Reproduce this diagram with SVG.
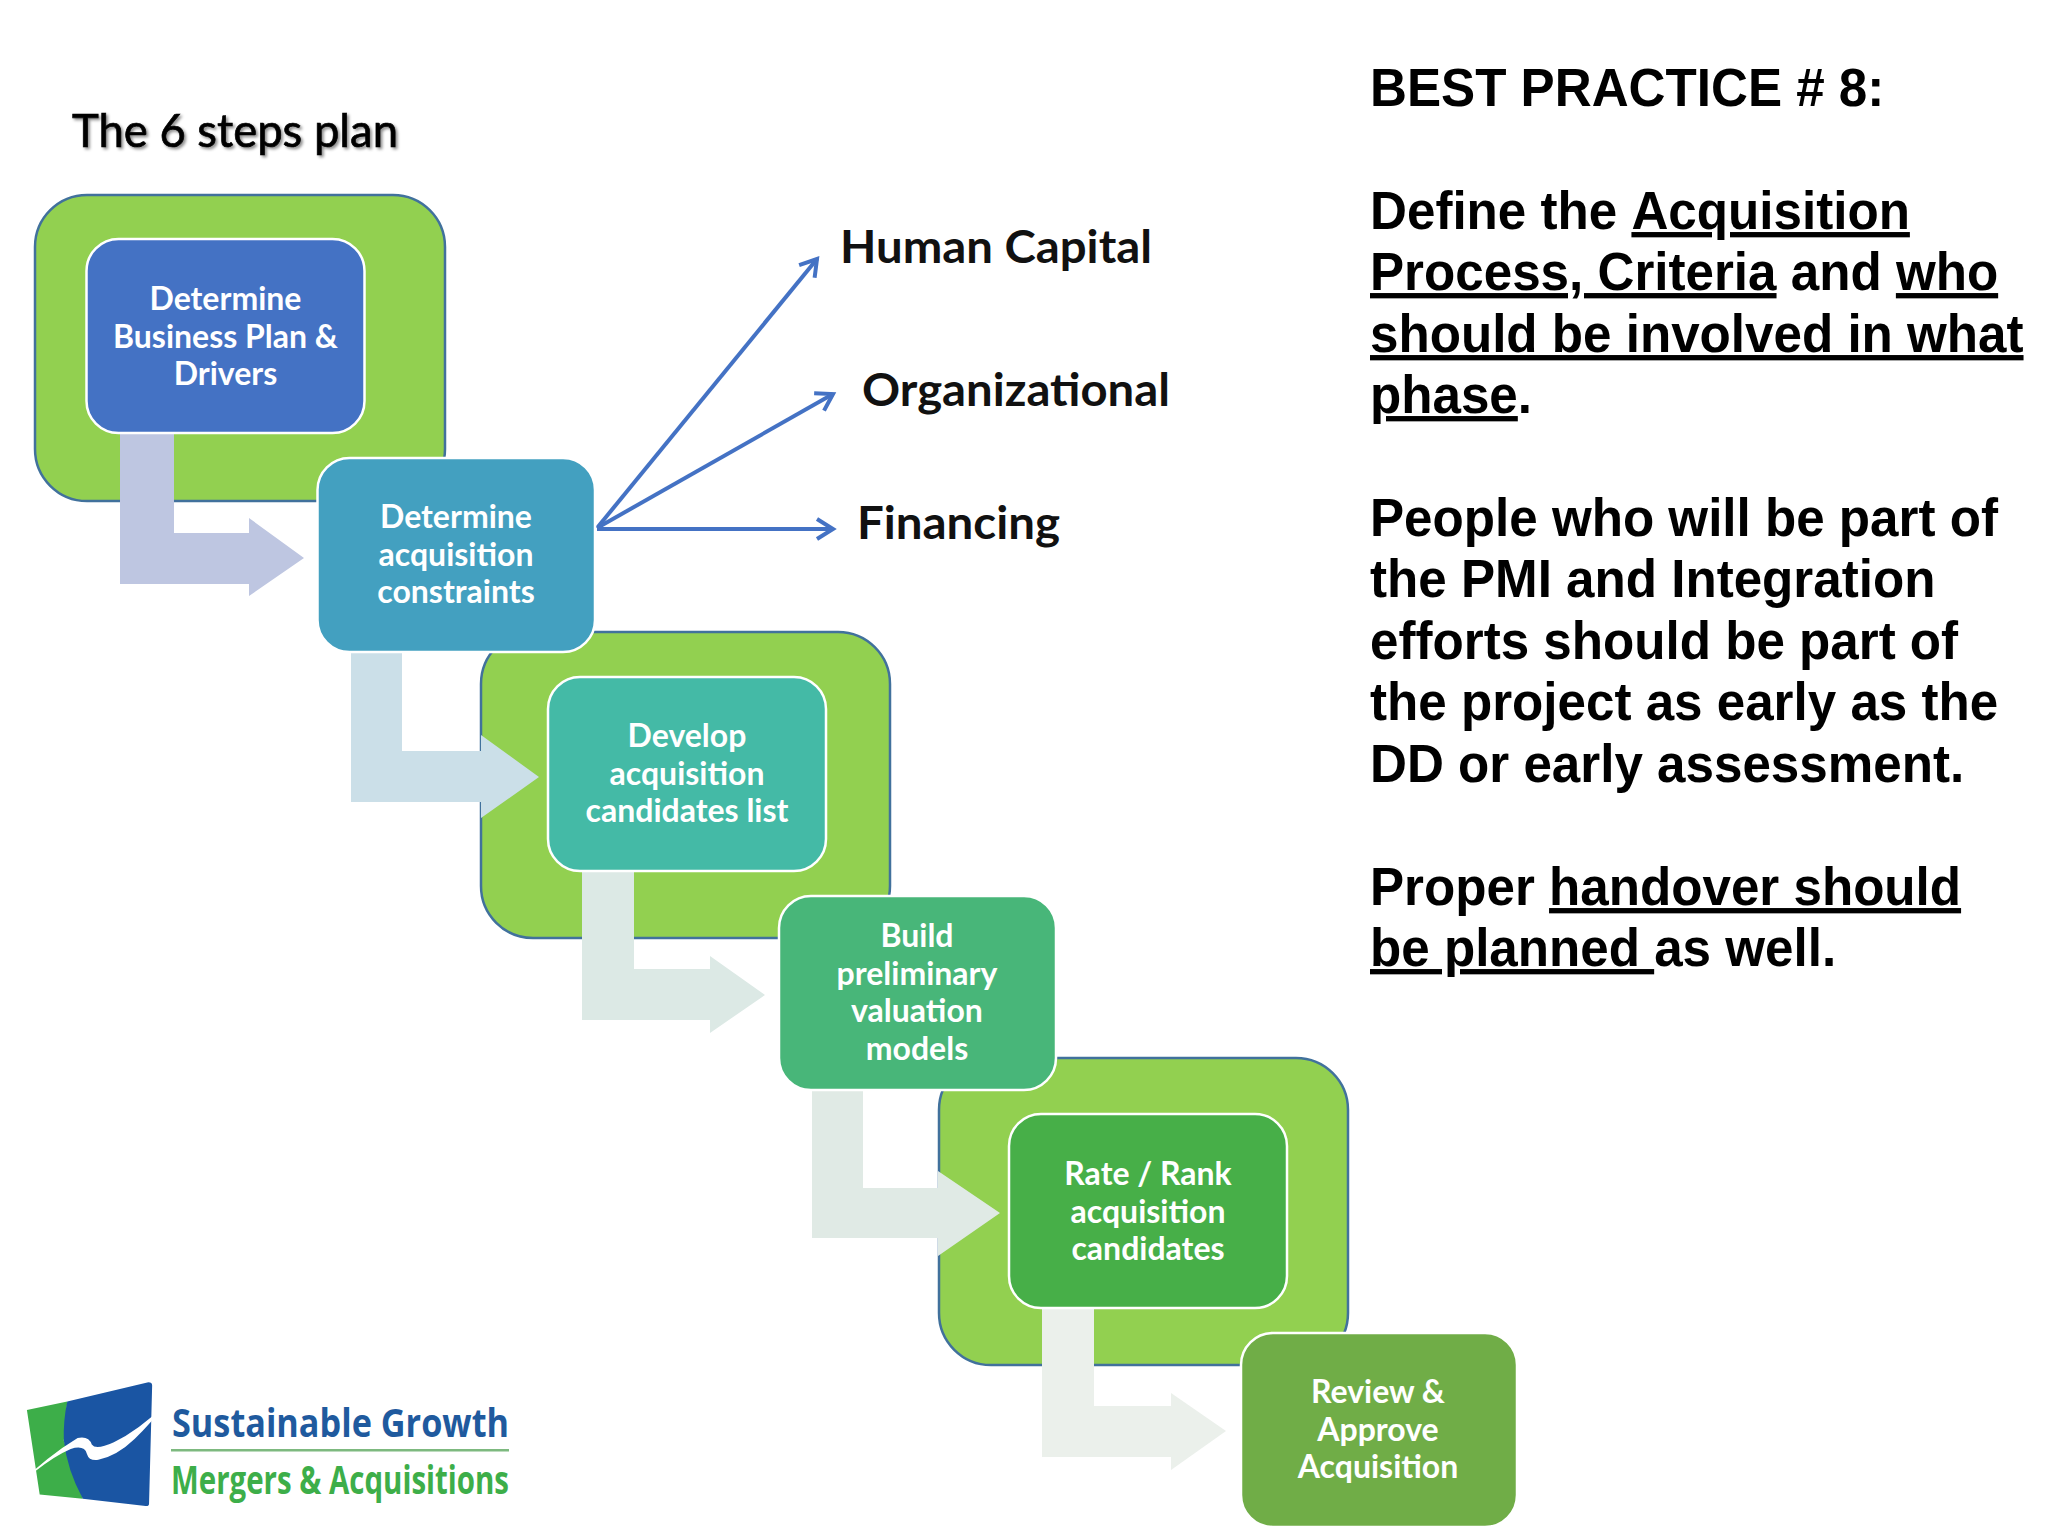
<svg xmlns="http://www.w3.org/2000/svg" width="2048" height="1536" viewBox="0 0 2048 1536">
<style>
.panel{fill:#92D050;stroke:#41719C;stroke-width:2.5}
.node{stroke:#fff;stroke-width:2.5}
.nt{font-family:"Lato","Carlito","Liberation Sans",sans-serif;font-weight:700;font-size:32px;fill:#fff;text-anchor:middle}
.lab{font-family:"Lato","Liberation Sans",sans-serif;font-weight:700;font-size:45px;fill:#111}
.bp{font-family:"Liberation Sans",Arial,sans-serif;font-weight:700;font-size:53px;fill:#000;white-space:pre}
.u{text-decoration:underline}
.fan{fill:none;stroke:#4472C4;stroke-width:4;marker-end:url(#open)}
</style>
<defs>
<marker id="open" markerUnits="userSpaceOnUse" markerWidth="28" markerHeight="28" refX="21" refY="14" orient="auto">
<path d="M5 4L21 14L5 24" fill="none" stroke="#4472C4" stroke-width="4"/>
</marker>
<filter id="sh" x="-5%" y="-20%" width="110%" height="140%"><feDropShadow dx="2" dy="2" stdDeviation="1.5" flood-color="#000" flood-opacity=".45"/></filter>
</defs>
<rect width="2048" height="1536" fill="#fff"/>
<text x="72" y="147" font-family="Lato,'Liberation Sans',sans-serif" font-size="46" fill="#000" stroke="#000" stroke-width=".7" filter="url(#sh)" textLength="326" lengthAdjust="spacingAndGlyphs">The 6 steps plan</text>
<g id="panels">
<rect class="panel" x="35" y="195" width="410" height="306" rx="52"/>
<rect class="panel" x="481" y="632" width="409" height="306" rx="52"/>
<rect class="panel" x="939" y="1058" width="409" height="307" rx="52"/>
</g>
<g id="connectors">
<path fill="#BEC6E1" d="M120 433H174V533H249V518L304 558L249 596V584H120Z"/>
<path fill="#CBDFE8" d="M351 653H402V751H481V735L539 777L481 818V802H351Z"/>
<path fill="#DCE9E5" d="M582 871H634V969H710V956L765 995L710 1033V1020H582Z"/>
<path fill="#E0EAE5" d="M812 1090H863V1188H938V1171L1000 1213L938 1256V1238H812Z"/>
<path fill="#EBF0EB" d="M1042 1308H1094V1406H1171V1393L1226 1431L1171 1470V1457H1042Z"/>
<path class="fan" d="M597 528L817 259"/>
<path class="fan" d="M597 528L833 394"/>
<path class="fan" d="M597 529H833"/>
</g>
<g id="node1"><rect class="node" x="86.500" y="239" width="278" height="194" rx="32" fill="#4472C4"/>
<text class="nt" x="225.500" y="310">Determine</text><text class="nt" x="225.500" y="348">Business Plan &amp;</text><text class="nt" x="225.500" y="385">Drivers</text></g>
<g id="node2"><rect class="node" x="317.500" y="458" width="277.500" height="194" rx="32" fill="#43A0C0"/>
<text class="nt" x="456" y="528">Determine</text><text class="nt" x="456" y="566">acquisition</text><text class="nt" x="456" y="603">constraints</text></g>
<g id="node3"><rect class="node" x="548" y="677" width="278" height="194" rx="32" fill="#44BAA6"/>
<text class="nt" x="687" y="747">Develop</text><text class="nt" x="687" y="785">acquisition</text><text class="nt" x="687" y="822">candidates list</text></g>
<g id="node4"><rect class="node" x="779" y="896" width="277" height="194" rx="32" fill="#48B679"/>
<text class="nt" x="917" y="947">Build</text><text class="nt" x="917" y="985">preliminary</text><text class="nt" x="917" y="1022">valuation</text><text class="nt" x="917" y="1060">models</text></g>
<g id="node5"><rect class="node" x="1009" y="1114" width="278" height="194" rx="32" fill="#47AF48"/>
<text class="nt" x="1148" y="1185">Rate / Rank</text><text class="nt" x="1148" y="1223">acquisition</text><text class="nt" x="1148" y="1260">candidates</text></g>
<g id="node6"><rect class="node" x="1241" y="1333" width="276" height="194" rx="32" fill="#70AD47"/>
<text class="nt" x="1378" y="1403">Review &amp;</text><text class="nt" x="1378" y="1441">Approve</text><text class="nt" x="1378" y="1478">Acquisition</text></g>
<g id="fan-labels">
<text class="lab" x="840" y="263" textLength="312" lengthAdjust="spacingAndGlyphs">Human Capital</text>
<text class="lab" x="862" y="406" textLength="308" lengthAdjust="spacingAndGlyphs">Organizational</text>
<text class="lab" x="857" y="539" textLength="203" lengthAdjust="spacingAndGlyphs">Financing</text>
</g>
<g id="best-practice" transform="translate(1370 0) scale(.965 1)">
<text class="bp" y="106">BEST PRACTICE # 8:</text>
<text class="bp" y="229">Define the <tspan class="u">Acquisition</tspan></text>
<text class="bp" y="290"><tspan class="u">Process, Criteria</tspan> and <tspan class="u">who</tspan></text>
<text class="bp" y="352"><tspan class="u">should be involved in what</tspan></text>
<text class="bp" y="413"><tspan class="u">phase</tspan>.</text>
<text class="bp" y="536">People who will be part of</text>
<text class="bp" y="597">the PMI and Integration</text>
<text class="bp" y="659">efforts should be part of</text>
<text class="bp" y="720">the project as early as the</text>
<text class="bp" y="782">DD or early assessment.</text>
<text class="bp" y="905">Proper <tspan class="u">handover should</tspan></text>
<text class="bp" y="966"><tspan class="u">be planned </tspan>as well.</text>
</g>
<g id="logo">
<g transform="translate(0 1341) scale(.345 .332)">
<path fill="#3DAE49" d="M78 208L195 182L185 300L240 475L115 462Z"/>
<path fill="#1A55A3" d="M195 182L430 124Q441 124 441 134L432 490Q432 498 422 497L240 475Q195 390 185 300Q183 240 195 182Z"/>
<path fill="#fff" d="M45 440Q140 345 225 292Q258 285 266 312Q278 330 330 305Q400 270 475 195Q440 245 390 295Q340 345 285 358Q258 362 252 340Q245 312 205 325Q160 345 105 390Z"/>
</g>
<text x="172" y="1437" font-family="'Open Sans','Noto Sans',sans-serif" font-weight="700" font-size="40" fill="#1F5A9E" textLength="337" lengthAdjust="spacingAndGlyphs">Sustainable Growth</text>
<rect x="171" y="1449" width="338" height="2.500" fill="#7DB97F"/>
<text x="171" y="1494" font-family="'Open Sans','Noto Sans',sans-serif" font-weight="700" font-size="40" fill="#3DAE49" textLength="338" lengthAdjust="spacingAndGlyphs">Mergers &amp; Acquisitions</text>
</g>
</svg>
